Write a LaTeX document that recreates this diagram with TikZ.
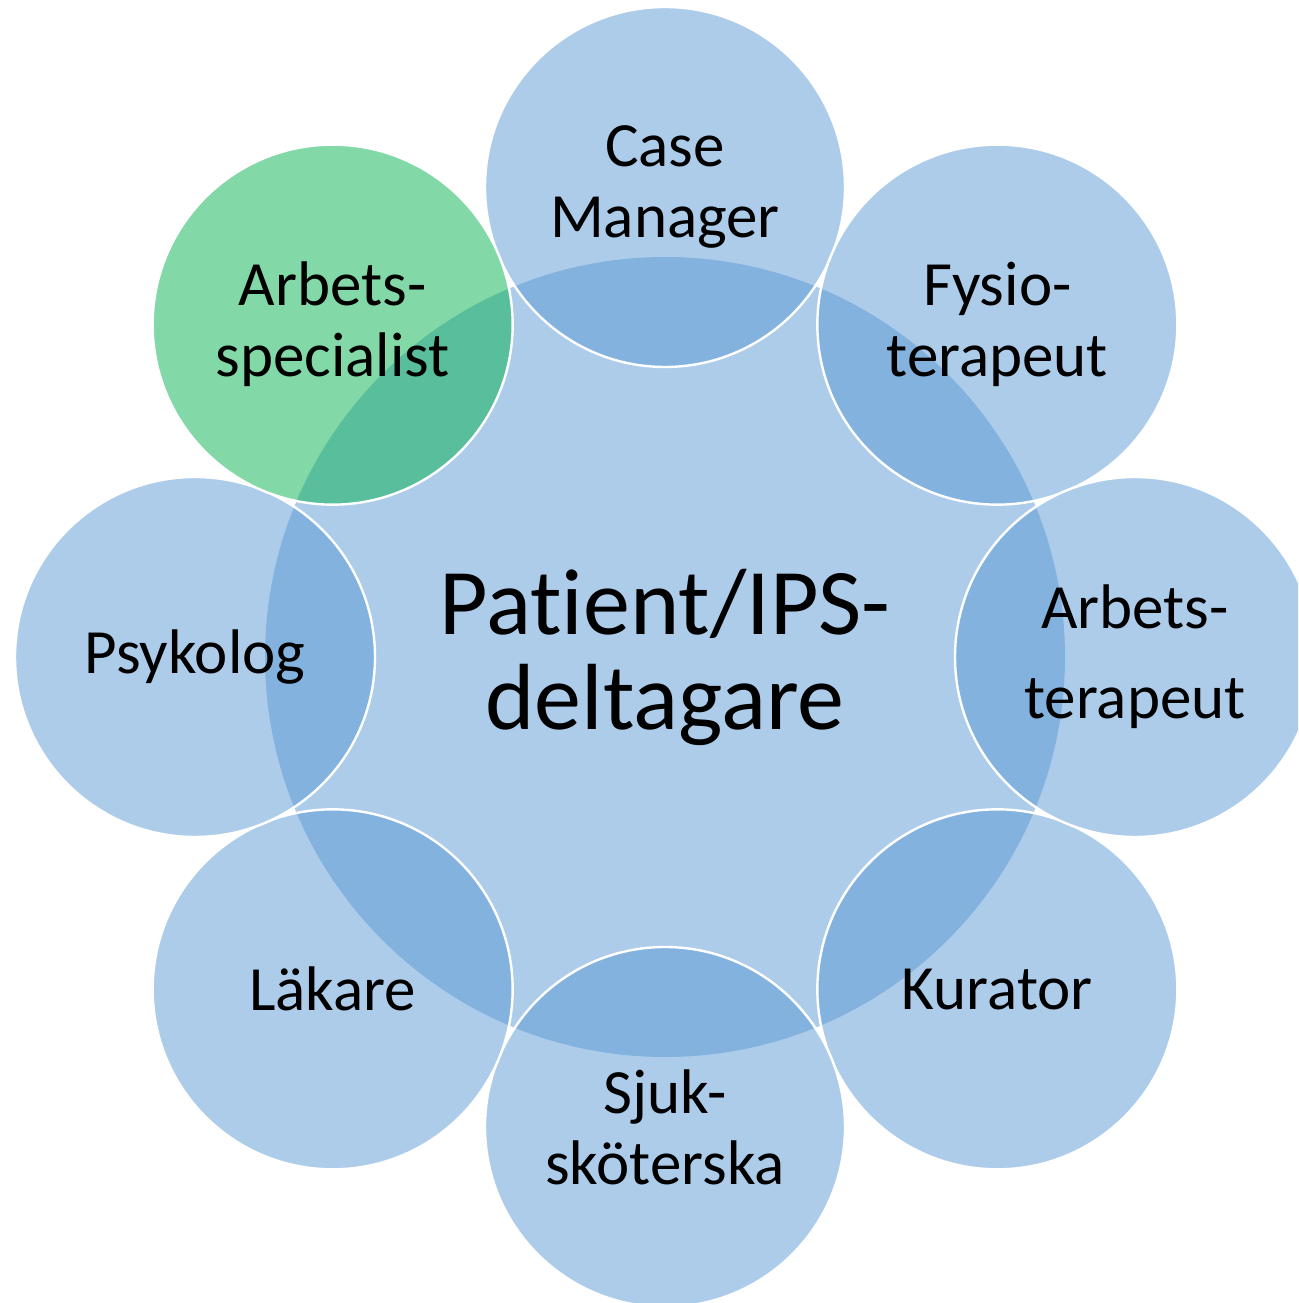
\documentclass[tikz,border=0pt]{standalone}
\usepackage{fontspec}
\setmainfont{Carlito}[Ligatures=NoCommon,RawFeature=-calt,RawFeature=-clig,RawFeature=-dlig]
\usetikzlibrary{calc}
\definecolor{ringblue}{RGB}{91,153,213}
\definecolor{ringgreen}{RGB}{5,177,79}
\tikzset{
  member/.style={circle,minimum size=180pt,inner sep=0pt,draw=white,line width=1.2pt,
    fill=ringblue,fill opacity=0.5,text opacity=1,align=center,
    font=\fontsize{31.5}{35.5}\selectfont},
  hub/.style={circle,minimum size=400pt,inner sep=0pt,fill=ringblue,fill opacity=0.5,
    text opacity=1,align=center,font=\fontsize{47}{47.5}\selectfont}
}
\begin{document}
\begin{tikzpicture}[x=0.5pt,y=0.5pt]
\useasboundingbox (0,0) rectangle (1298,1303);
\clip (0,0) rectangle (1298,1303);
% centre
\node[hub] (pat) at (665,646) {Pat\kern0pt ient/IPS-\\deltagare};
% ring of roles
\foreach \ang/\nm/\txt in {90/cm/{Case\\Manager},45/fys/{Fysio-\\terapeut},
  -45/kur/Kurator,-90/sjuk/{Sjuk-\\sköterska},-135/lak/Läkare,180/psy/Psykolog}
  \node[member] (\nm) at ($(pat)+(\ang:470)$) {\txt};
\node[member,font=\fontsize{31.5}{45}\selectfont] (at) at ($(pat)+(0:470)$) {Arbets-\\terapeut};
\node[member,fill=ringgreen] (as) at ($(pat)+(135:470)$) {Arbets-\\specialist};
\end{tikzpicture}
\end{document}
